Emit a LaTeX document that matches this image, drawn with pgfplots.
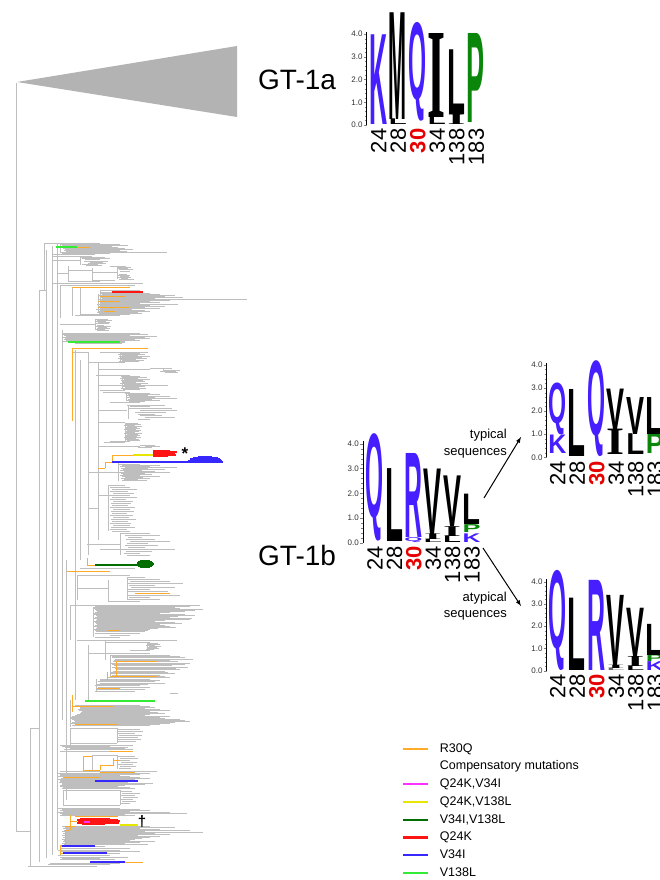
\documentclass[border=0pt]{standalone}
\usepackage{fontspec}
\setmainfont{Liberation Sans}
\newfontfamily\serifI{Liberation Serif}
\usepackage{graphicx}
\usepackage{pgfplots}
\usepackage{pgfplotstable}
\pgfplotsset{compat=1.18}
\definecolor{treegray}{RGB}{190,190,190}
\definecolor{trigray}{RGB}{179,179,179}
\definecolor{orT}{RGB}{255,170,40}
\definecolor{redT}{RGB}{255,20,20}
\definecolor{yelT}{RGB}{230,230,0}
\definecolor{bluT}{RGB}{55,40,255}
\definecolor{dgrT}{RGB}{0,110,0}
\definecolor{grnT}{RGB}{50,235,50}
\definecolor{magT}{RGB}{255,50,255}
\definecolor{logoblue}{RGB}{70,30,255}
\definecolor{logogreen}{RGB}{10,135,10}
\definecolor{logored}{RGB}{230,0,0}

% gray horizontal branches: x1 x2 y
\pgfplotstableread{
x1 x2 y
16 30 831
30 39 728
28 97 866
39 46 290
44 100 243
60 120 244
62 128 245
60 112 246
90 118 247
63 125 248
65 133 249
64 120 250
66 127 251
60 167 252
62 110 253
52 95 254
52 92 256
80 105 257
82 110 258
85 100 259
52 80 260
84 108 261
90 103 262
88 106 263
82 98 264
86 102 265
110 126 266
118 131 267
117 128 268
119 133 269
68 92 270
120 130 271
92 117 272
58 68 273
119 127 274
118 130 275
120 129 276
117 131 277
121 128 278
119 134 279
92 115 280
68 100 281
53 143 283
60 135 285
100 140 290
100 112 292
100 150 293
102 160 294
98 175 295
125 165 296
100 183 297
102 155 298
98 247 299
100 170 300
120 150 301
101 160 302
100 140 303
97 178 304
100 150 305
99 165 306
130 145 307
100 160 308
96 132 309
100 145 310
98 150 311
97 138 312
99 142 313
80 130 314
75 120 315
95 108 319
97 112 320
96 106 321
98 110 322
95 109 323
60 95 324
97 104 325
96 111 326
98 107 327
97 110 328
95 105 329
97 109 330
62 140 333
63 148 334
64 130 335
66 157 336
63 145 337
65 150 338
64 135 339
66 140 340
63 125 341
120 125 342
75 122 343
72 88 352
100 148 352
120 140 353
118 145 354
122 138 355
119 150 356
121 142 357
118 147 358
120 136 359
122 144 360
119 139 361
88 125 362
150 172 368
98 150 369
163 180 370
160 176 371
165 178 372
96 130 375
121 140 376
123 147 377
120 138 378
124 150 379
121 143 380
123 145 381
122 136 382
120 148 383
124 141 384
98 168 385
122 145 386
125 139 387
121 146 388
123 140 389
100 125 390
103 130 392
125 150 393
128 160 394
126 148 395
129 170 396
127 155 397
130 177 398
128 152 399
126 160 400
129 145 401
110 140 402
127 165 405
130 150 406
128 172 408
98 127 410
140 177 410
135 166 412
138 155 414
140 162 415
145 175 417
138 150 419
98 125 422
125 138 423
126 141 424
124 135 425
127 142 426
125 137 427
126 140 428
124 136 429
127 141 430
125 139 431
126 135 432
124 142 433
127 138 434
125 140 435
126 137 436
124 141 437
126 136 438
125 139 439
127 140 440
110 130 441
104 125 442
140 155 445
98 140 446
145 160 446
138 152 447
118 140 464
122 160 465
120 150 466
125 177 467
121 148 468
123 165 469
120 142 470
124 155 471
88 170 472
121 145 473
123 152 474
120 140 475
122 160 476
125 143 477
121 150 478
124 138 479
122 147 480
108 125 485
110 130 487
112 137 489
110 128 491
113 134 493
98 130 495
112 137 497
110 126 499
113 133 501
111 131 503
112 128 505
110 135 507
88 98 508
113 130 509
111 134 511
112 127 513
110 133 515
113 129 517
111 136 519
112 128 521
110 131 523
113 130 525
111 135 527
110 127 529
112 130 531
120 150 533
125 160 535
128 142 537
126 155 539
130 170 541
127 148 543
87 120 544
125 158 545
128 145 547
100 175 549
126 152 551
124 140 553
127 150 555
80 135 568
77 130 575
127 145 577
128 160 579
130 170 581
127 183 583
129 155 585
131 175 587
77 108 588
128 150 589
127 168 591
128 180 595
129 150 597
127 160 599
108 140 601
70 200 605
95 190 606
93 175 607
94 180 608
95 203 609
96 195 610
97 185 611
95 170 612
94 160 613
93 185 614
96 195 615
97 178 616
95 170 617
94 192 618
97 190 619
96 165 620
94 155 621
95 175 622
96 182 623
97 160 624
95 165 625
94 170 626
97 176 627
96 158 628
94 150 629
95 148 630
96 145 631
95 140 633
110 130 635
95 120 637
77 177 640
105 150 642
147 158 643
148 160 644
146 155 645
149 161 646
147 157 647
148 159 648
146 154 649
130 150 650
88 150 653
110 170 655
112 180 656
112 185 657
115 193 659
114 170 660
113 178 661
111 190 663
112 185 664
114 172 665
112 188 667
115 176 668
116 180 669
113 165 671
111 168 672
110 175 673
112 160 675
110 165 676
108 170 677
100 150 679
100 160 680
98 155 681
100 165 683
97 148 684
95 140 685
98 150 687
96 145 689
95 135 691
170 178 693
75 140 705
78 150 706
80 155 707
80 145 708
78 160 709
79 170 710
82 150 711
81 158 712
80 165 713
77 150 714
75 145 715
72 170 716
70 160 717
70 165 718
72 180 719
74 185 720
75 190 721
72 175 722
70 170 723
118 160 724
72 150 725
70 117 728
117 140 729
118 143 731
117 135 733
119 142 735
117 138 737
118 141 739
117 136 741
70 117 743
60 133 745
62 110 746
65 128 747
70 125 748
64 133 749
60 110 751
92 117 755
117 135 756
120 138 758
119 130 760
121 137 762
118 133 764
120 136 766
119 131 768
60 157 771
58 150 773
60 140 774
60 120 775
58 130 776
100 140 777
61 150 778
58 135 779
60 112 780
60 95 781
59 128 782
62 153 783
62 145 784
60 125 785
60 118 786
63 130 787
62 135 788
63 120 790
120 132 791
122 140 793
120 135 795
123 138 797
121 133 799
122 136 801
120 130 803
63 120 805
58 120 808
62 140 809
60 150 810
63 130 811
58 170 812
60 187 813
62 125 814
60 135 815
62 150 826
65 175 827
63 140 828
66 160 829
64 190 830
62 145 831
65 203 832
63 155 833
66 170 834
62 138 835
65 160 836
63 150 837
66 142 838
62 135 839
64 130 840
63 155 841
66 140 842
62 125 843
64 148 844
95 105 846
60 130 848
58 120 850
60 140 851
107 120 853
58 110 855
60 128 857
62 100 858
60 115 859
50 120 863
48 110 864
}\Hgray

% gray vertical branches: x y1 y2
\pgfplotstableread{
x y1 y2
30 728 866
39 290 862
44 243 290
46 250 858
52 246 855
57 243 850
60 244 253
62 330 720
66 560 800
80 257 265
68 266 281
92 268 280
117 266 279
60 285 318
72 287 316
80 288 315
100 290 313
98 294 312
95 319 330
62 332 345
75 350 700
80 360 560
88 352 555
98 362 540
120 353 361
122 376 389
126 393 401
128 405 419
163 369 372
125 423 441
118 463 481
108 485 531
120 533 555
77 575 600
108 580 601
127 577 599
70 605 640
93 607 637
105 641 660
147 643 649
88 645 700
110 655 677
96 679 691
70 700 727
117 728 743
70 728 745
92 755 771
117 755 769
120 790 805
63 790 806
16 83 831
}\Vgray

\pgfplotstableread{
x1 x2 y
77 90 247
72 130 287
100 125 296
98 120 301
98 130 307
104 115 311
72 148 348
112 133 455
105 112 462
98 105 468
87 95 565
67 110 571
135 170 593
107 120 630
117 157 661
110 157 676
97 120 688
72 113 706
75 118 724
110 133 751
83 92 756
113 120 760
100 113 765
83 100 770
100 135 772
63 100 777
75 118 816
70 77 821
65 75 826
65 70 830
60 65 845
60 63 846
60 63 853
125 143 862
}\Horange

\pgfplotstableread{
x y1 y2
72 348 421
112 455 462
105 462 468
87 558 565
116 661 676
107 672 680
72 695 712
83 756 770
100 765 770
113 758 766
70 815 830
65 830 845
60 845 855
}\Vorange

\pgfplotstableread{
x1 x2 y
112 143 292
153 170 451
153 177 452
153 175 453
153 172 454
153 176 455
153 168 456
80 110 819
77 118 820
78 120 821
80 115 822
77 119 823
82 105 824
}\Hred

\pgfplotstableread{
x1 x2 y
133 153 455
120 138 825
}\Hyellow

\pgfplotstableread{
x1 x2 y
198 212 457
193 218 458
190 220 459
190 221 460
188 222 461
112 223 462
95 138 781
62 95 846
63 107 853
90 125 862
}\Hblue

\pgfplotstableread{
x1 x2 y
140 150 561
138 152 562
137 153 563
137 154 564
95 153 565
138 152 566
140 150 567
}\Hdgreen

\pgfplotstableread{
x1 x2 y
56 77 247
68 120 342
85 155 701
}\Hgreen

\pgfplotstableread{
x1 x2 y
84 90 822
}\Hmag

% collapsed clade outline
\pgfplotstableread{
x y
17 82
237 46
237 117
}\Tri

\newcommand{\LL}[5]{\node[anchor=south,inner sep=0pt,outer sep=0pt,text=#4] at (axis cs:#1,#2) {\resizebox*{18pt}{\dimexpr #3pt*\uu/100\relax}{\bfseries #5}};}

\pgfplotsset{
  logo/.style={
    scale only axis, anchor=south west, clip=false,
    ymin=0, ymax=4.1,
    axis y line*=left, axis x line*=bottom,
    x axis line style={draw=none},
    xtick={1,2,3,4,5,6},
    xticklabels={24,28,{\textcolor{logored}{\bfseries 30}},34,138,183},
    x tick label style={rotate=90, anchor=east, font=\fontsize{22}{22}\selectfont, inner sep=0.5pt, text height=16pt, text depth=0pt},
    major x tick style={draw=none},
    ytick={0,1,2,3,4}, minor y tick num=4,
    tick align=outside,
    major tick length=3pt, minor tick length=2pt,
    y tick label style={font=\fontsize{8}{8}\selectfont, text=black!80, inner sep=1pt},
    yticklabel style={/pgf/number format/.cd, fixed, fixed zerofill, precision=1, assume math mode=true},
    axis line style={line width=0.6pt},
  },
  hseg/.style={forget plot, line width=#1, quiver={u=\thisrow{x2}-\thisrow{x1}, v=0}},
  vseg/.style={forget plot, line width=#1, quiver={u=0, v=\thisrow{y2}-\thisrow{y1}}},
}

\begin{document}
\begin{tikzpicture}
\begin{axis}[
  at={(0pt,0pt)}, anchor=south west, scale only axis,
  width=660pt, height=880pt,
  xmin=0, xmax=660, ymin=0, ymax=880, y dir=reverse,
  hide axis, clip=false,
  legend style={at={(axis cs:402,742)}, anchor=north west, draw=none, fill=none,
    font=\fontsize{12.5}{13}\selectfont, row sep=4.2pt, inner sep=0pt,
    nodes={inner sep=0.5pt, text height=9.5pt, text depth=3pt},
    /tikz/every odd column/.append style={column sep=10pt}},
  legend cell align=left,
  legend image code/.code={\draw[line width=2.2pt,#1] (0pt,0pt) -- (25pt,0pt);},
]
% collapsed GT-1a clade
\addplot[forget plot, fill=trigray, draw=none, mark=none] table[x=x,y=y] {\Tri} -- cycle;
% tree
\addplot[hseg=0.6pt, draw=treegray] table[x=x1,y=y] {\Hgray};
\addplot[vseg=0.6pt, draw=treegray] table[x=x,y=y1] {\Vgray};
\addplot[hseg=1pt, draw=orT] table[x=x1,y=y] {\Horange};
\addplot[vseg=1pt, draw=orT] table[x=x,y=y1] {\Vorange};
\addplot[hseg=1.1pt, draw=redT] table[x=x1,y=y] {\Hred};
\addplot[hseg=1.2pt, draw=yelT] table[x=x1,y=y] {\Hyellow};
\addplot[hseg=1.1pt, draw=bluT] table[x=x1,y=y] {\Hblue};
\addplot[hseg=1.2pt, draw=dgrT] table[x=x1,y=y] {\Hdgreen};
\addplot[hseg=1.1pt, draw=grnT] table[x=x1,y=y] {\Hgreen};
\addplot[hseg=1.1pt, draw=magT] table[x=x1,y=y] {\Hmag};
% legend
\addlegendimage{draw=orT}
\addlegendentry{R30Q}
\addlegendimage{empty legend}
\addlegendentry{Compensatory mutations}
\addlegendimage{draw=magT}
\addlegendentry{Q24K,V34I}
\addlegendimage{draw=yelT}
\addlegendentry{Q24K,V138L}
\addlegendimage{draw=dgrT}
\addlegendentry{V34I,V138L}
\addlegendimage{draw=redT}
\addlegendentry{Q24K}
\addlegendimage{draw=bluT}
\addlegendentry{V34I}
\addlegendimage{draw=grnT}
\addlegendentry{V138L}
% annotations
\node[anchor=base west, font=\fontsize{28}{28}\selectfont, inner sep=0pt] at (axis cs:258,90) {GT-1a};
\node[anchor=base west, font=\fontsize{28}{28}\selectfont, inner sep=0pt] at (axis cs:258,565) {GT-1b};
\node[anchor=base, font=\fontsize{17}{17}\selectfont\bfseries, inner sep=0pt] at (axis cs:185,459) {*};
\node[anchor=base, font=\fontsize{15}{15}\selectfont\bfseries, inner sep=0pt] at (axis cs:142,826) {\textdagger};
\node[anchor=base east, font=\fontsize{13}{13}\selectfont, inner sep=0pt] at (axis cs:507,438) {typical};
\node[anchor=base east, font=\fontsize{13}{13}\selectfont, inner sep=0pt] at (axis cs:507,455) {sequences};
\node[anchor=base east, font=\fontsize{13}{13}\selectfont, inner sep=0pt] at (axis cs:507,601) {atypical};
\node[anchor=base east, font=\fontsize{13}{13}\selectfont, inner sep=0pt] at (axis cs:507,617) {sequences};
\draw[-latex, line width=1pt] (axis cs:484,498) -- (axis cs:521,437);
\draw[-latex, line width=1pt] (axis cs:483,548) -- (axis cs:521,606);
\end{axis}

% logo GT-1a
\def\uu{2270}
\begin{axis}[logo, at={(366.7pt,755pt)}, width=118.95pt, height=93.07pt, xmin=0.4, xmax=6.5]
\addplot[draw=none, forget plot] coordinates {(1,0)};
\LL{1}{0}{3.95}{logoblue}{K}
\LL{2}{0}{0.25}{black}{L}
\LL{2}{0.25}{4.7}{black}{M}
\LL{3}{0.15}{4.35}{logoblue}{Q}
\LL{4}{0}{0.35}{black}{L}
\LL{4}{0.35}{3.7}{black}{\serifI I}
\LL{5}{0}{0.45}{black}{\serifI I}
\LL{5}{0.45}{2.85}{black}{L}
\LL{6}{0.13}{3.92}{logogreen}{P}
\end{axis}

% logo GT-1b
\def\uu{2470}
\begin{axis}[logo, at={(363pt,337.3pt)}, width=118.3pt, height=101.27pt, xmin=0.4, xmax=6.5]
\addplot[draw=none, forget plot] coordinates {(1,0)};
\LL{1}{0.05}{4.35}{logoblue}{Q}
\LL{2}{0.05}{2.95}{black}{L}
\LL{3}{0}{0.2}{logoblue}{Q}
\LL{3}{0.2}{3.4}{logoblue}{R}
\LL{4}{0}{0.12}{black}{L}
\LL{4}{0.12}{0.23}{black}{\serifI I}
\LL{4}{0.35}{2.65}{black}{V}
\LL{5}{0}{0.25}{black}{L}
\LL{5}{0.25}{0.4}{black}{\serifI I}
\LL{5}{0.65}{2.05}{black}{V}
\LL{6}{0}{0.35}{logoblue}{K}
\LL{6}{0.4}{0.32}{logogreen}{P}
\LL{6}{0.72}{1.23}{black}{L}
\end{axis}

% logo typical
\def\uu{2310}
\begin{axis}[logo, at={(546.7pt,422.7pt)}, width=118.95pt, height=94.71pt, xmin=0.45, xmax=6.55]
\addplot[draw=none, forget plot] coordinates {(1,0)};
\LL{1}{0.15}{0.8}{logoblue}{K}
\LL{1}{0.95}{2.25}{logoblue}{Q}
\LL{2}{0.05}{2.9}{black}{L}
\LL{3}{0.05}{4.15}{logoblue}{Q}
\LL{4}{0.1}{1.1}{black}{\serifI I}
\LL{4}{1.2}{1.75}{black}{V}
\LL{5}{0.1}{0.9}{black}{L}
\LL{5}{1.0}{1.6}{black}{V}
\LL{6}{0.15}{0.85}{logogreen}{P}
\LL{6}{1.0}{1.6}{black}{L}
\end{axis}

% logo atypical
\def\uu{2225}
\begin{axis}[logo, at={(546.7pt,209.3pt)}, width=118.95pt, height=91.2pt, xmin=0.45, xmax=6.55]
\addplot[draw=none, forget plot] coordinates {(1,0)};
\LL{1}{0}{4.5}{logoblue}{Q}
\LL{2}{0}{3.25}{black}{L}
\LL{3}{0}{4.05}{logoblue}{R}
\LL{4}{0}{0.1}{black!60}{L}
\LL{4}{0.1}{0.15}{black}{\serifI I}
\LL{4}{0.25}{3.15}{black}{V}
\LL{5}{0}{0.18}{black}{L}
\LL{5}{0.18}{0.45}{black}{\serifI I}
\LL{5}{0.63}{2.17}{black}{V}
\LL{6}{0}{0.4}{logoblue}{K}
\LL{6}{0.4}{0.3}{logogreen}{P}
\LL{6}{0.7}{1.4}{black}{L}
\end{axis}

\pgfresetboundingbox
\path[use as bounding box] (0pt,0pt) rectangle (660pt,880pt);
\end{tikzpicture}
\end{document}
